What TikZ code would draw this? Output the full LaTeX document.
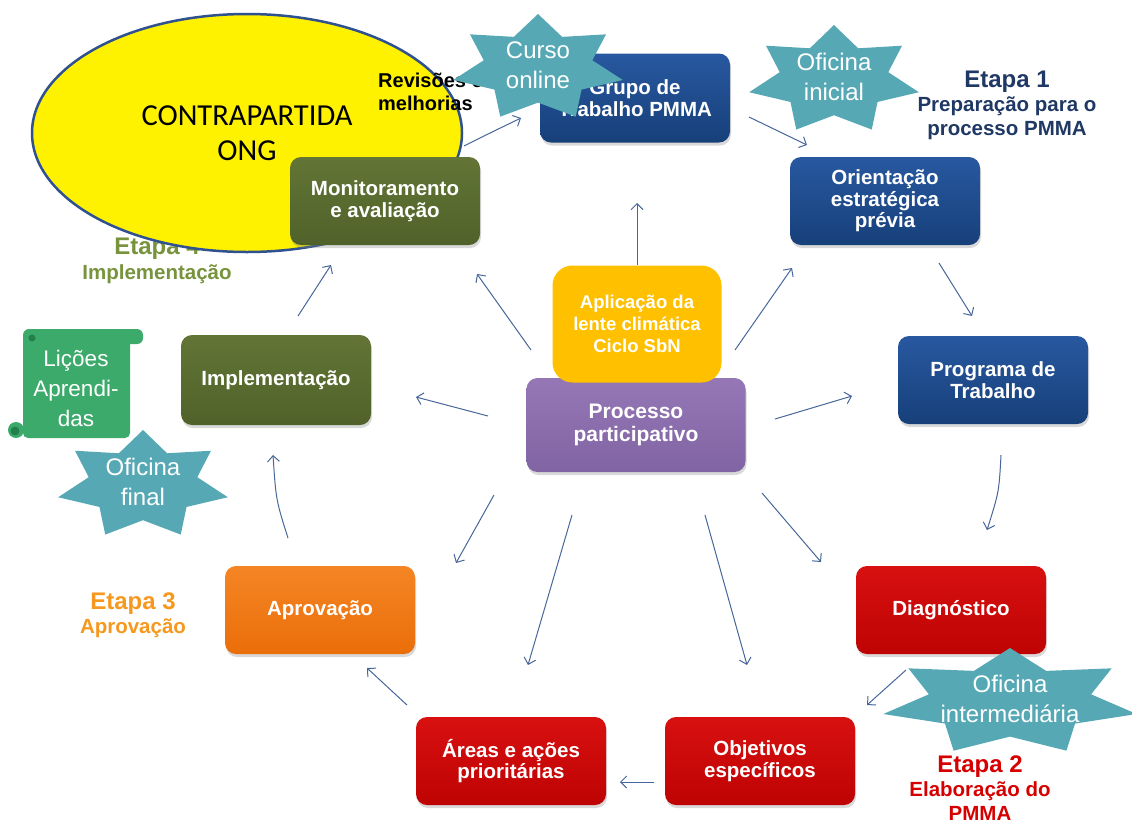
\documentclass[tikz,border=0pt]{standalone}
\usepackage{fontspec}
\setmainfont{Liberation Sans}
\newfontfamily\ongfont{Carlito}
\usepackage{tikz}
\usetikzlibrary{shapes.geometric}
\usetikzlibrary{shadows}
\usetikzlibrary{arrows.meta}
\usepackage{xcolor}

\definecolor{blueTop}{HTML}{2858A0}
\definecolor{blueBot}{HTML}{17407A}
\definecolor{redTop}{HTML}{D81010}
\definecolor{redBot}{HTML}{BE0303}
\definecolor{orangeTop}{HTML}{F58524}
\definecolor{orangeBot}{HTML}{EA6E0A}
\definecolor{oliveTop}{HTML}{627536}
\definecolor{oliveBot}{HTML}{506229}
\definecolor{purpleTop}{HTML}{9577B6}
\definecolor{purpleBot}{HTML}{8164A3}
\definecolor{lensyellow}{HTML}{FFC000}
\definecolor{starteal}{HTML}{56A9B4}
\definecolor{scrollgreen}{HTML}{3BAA6B}
\definecolor{scrolldark}{HTML}{23804A}
\definecolor{ongline}{HTML}{2F5190}
\definecolor{flowcol}{HTML}{47669A}
\definecolor{etapaone}{HTML}{1F3864}
\definecolor{etapatwo}{HTML}{D60000}
\definecolor{etapathree}{HTML}{F7981E}
\definecolor{etapafour}{HTML}{77933C}

\begin{document}
\begin{tikzpicture}[x=1pt, y=-1pt,
	stage/.style={rounded corners=11pt, minimum width=190pt, minimum height=88pt, inner sep=2pt, align=center, text=white, font=\bfseries\fontsize{20.5}{21.5}\selectfont, drop shadow={shadow xshift=1pt, shadow yshift=-3pt, opacity=0.3}},
	bluestage/.style={stage, top color=blueTop, bottom color=blueBot},
	redstage/.style={stage, top color=redTop, bottom color=redBot},
	orangestage/.style={stage, top color=orangeTop, bottom color=orangeBot},
	olivestage/.style={stage, top color=oliveTop, bottom color=oliveBot},
	flow/.style={draw=flowcol, line width=1pt, -{Straight Barb[length=6pt, width=12pt]}},
	etapa/.style={align=center, inner sep=0pt, font=\bfseries\fontsize{20.5}{23.5}\selectfont},
	oficina/.style={align=center, inner sep=0pt, text=white, font=\fontsize{24}{30}\selectfont}
]
	\useasboundingbox (0,0) rectangle (1132,823);

	\node[etapa, text=etapafour] (etapa4) at (157,261) {{\fontsize{24}{24}\selectfont Etapa 4}\\[1pt]Implementação};

	\node[ellipse, draw=ongline, line width=2.5pt, fill=yellow, minimum width=430pt, minimum height=238pt, align=center, font=\ongfont\fontsize{30.5}{35}\selectfont] (contra) at (247,133) {CONTRAPARTIDA\\ONG};
	\node[anchor=west, align=left, inner sep=0pt, font=\bfseries\fontsize{20}{23}\selectfont] (revisoes) at (378,92) {Revisões e\\melhorias};

	\node[bluestage, minimum height=89pt] (grupo) at (635,98) {Grupo de\\Trabalho PMMA};
	\node[bluestage] (orient) at (885,201) {Orientação\\estratégica\\prévia};
	\node[bluestage] (programa) at (993,380) {Programa de\\Trabalho};
	\node[redstage] (diag) at (951,610) {Diagnóstico};
	\node[redstage] (objet) at (760,761) {Objetivos\\específicos};
	\node[redstage] (areas) at (511,761) {Áreas e ações\\prioritárias};
	\node[orangestage] (aprov) at (320,610) {Aprovação};
	\node[olivestage, minimum height=90pt] (implem) at (276,380) {Implementação};
	\node[olivestage] (monit) at (385,201) {Monitoramento\\e avaliação};
	\node[stage, minimum width=219pt, minimum height=94pt, top color=purpleTop, bottom color=purpleBot, font=\bfseries\fontsize{21}{22.5}\selectfont] (proc) at (636,425) {Processo\\participativo};
	\node[rounded corners=20pt, fill=lensyellow, minimum width=169pt, minimum height=117pt, align=center, text=white, font=\bfseries\fontsize{18.5}{22}\selectfont] (aplic) at (637,324) {Aplicação da\\lente climática\\Ciclo SbN};

	\draw[flow] (464,146) coordinate (monit-out) .. controls (490,133) .. (521,118) coordinate (grupo-in);
	\draw[flow] (1001,455) coordinate (prog-out) .. controls (999,492) .. (987,530) coordinate (diag-in);
	\draw[flow] (288,538) coordinate (aprov-out) .. controls (276,500) .. (273,455) coordinate (implem-in);
	\foreach \sx/\sy/\ex/\ey/\nm in {749/117/807/145/grupo, 939/263/972/316/orient, 906/670/867/705/diag, 654/782/620/782/objet, 407/705/367/668/areas, 298/316/331/265/implem, 735/350/792/268/lorient, 775/419/852/396/lprog, 762/493/821/562/ldiag, 705/515/747/665/lobjet, 572/515/528/665/lareas, 494/495/456/563/laprov, 488/416/416/397/limplem, 531/350/477/274/lmonit}
	{
		\coordinate (\nm-s) at (\sx,\sy);
		\coordinate (\nm-e) at (\ex,\ey);
		\draw[flow] (\nm-s) -- (\nm-e);
	}
	\coordinate (lup) at (637,203);
	\draw[flow] (aplic) -- (lup);

	\fill[scrollgreen, rounded corners=5pt] (23,331) rectangle (130,438);
	\fill[scrollgreen, rounded corners=6pt] (23,329) rectangle (143,344);
	\fill[scrollgreen] (16,430) circle (8);
	\fill[scrolldark] (32,338) circle (3.5);
	\fill[scrolldark] (15,431) circle (4.5);
	\node[oficina, font=\fontsize{22.5}{30}\selectfont] (licoes) at (76,388) {Lições\\Aprendi-\\das};

	\foreach \cx/\cy/\rx/\ry/\nm/\txt in {538/68/87/54/curso/{Curso\\online}, 834/80/87/55/inicial/{Oficina\\inicial}, 143/485/87/55/final/{Oficina\\final}, 1010/702/130/54/intermed/{Oficina\\intermediária}}
	{
		\fill[starteal] plot[samples at={0,...,13}, variable=\k] ({\cx+(1-0.36*isodd(\k))*\rx*cos(90+\k*180/7)}, {\cy-(1-0.36*isodd(\k))*\ry*sin(90+\k*180/7)}) -- cycle;
		\node[oficina] (\nm) at (\cx,\cy-3) {\txt};
	}

	\node[etapa, text=etapaone] (etapa1) at (1007,105) {{\fontsize{24}{24}\selectfont Etapa 1}\\[1pt]Preparação para o\\processo PMMA};
	\node[etapa, text=etapatwo] (etapa2) at (980,788) {{\fontsize{24}{24}\selectfont Etapa 2}\\[1pt]Elaboração do\\PMMA};
	\node[etapa, text=etapathree] (etapa3) at (133,615) {{\fontsize{24}{24}\selectfont Etapa 3}\\[1pt]Aprovação};
\end{tikzpicture}
\end{document}
